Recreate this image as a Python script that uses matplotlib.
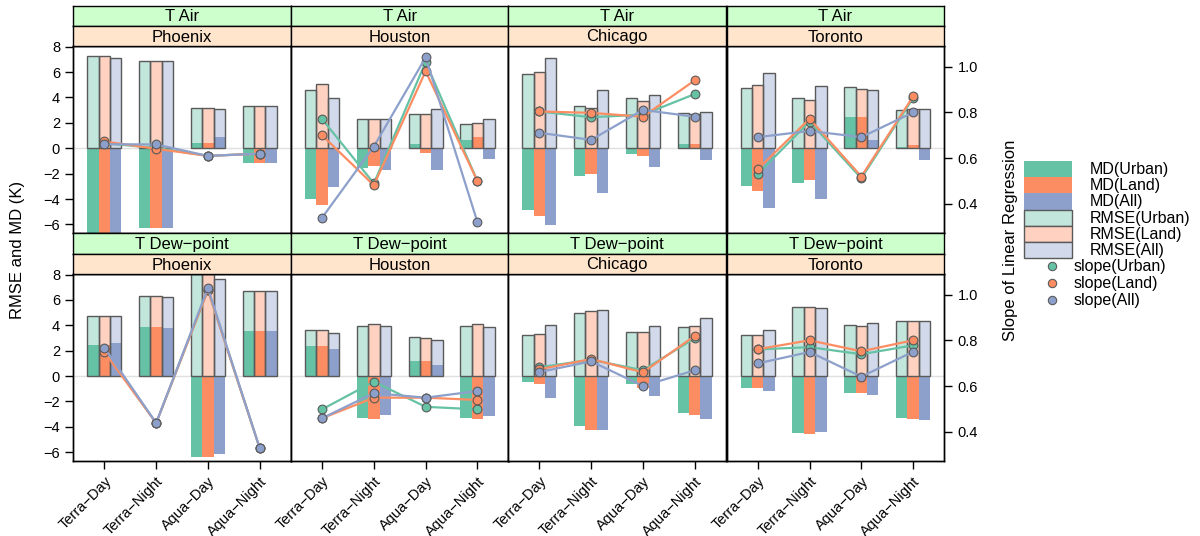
import numpy as np
import matplotlib
matplotlib.use('Agg')
import matplotlib.pyplot as plt
from matplotlib.patches import Rectangle

plt.rcParams['font.family'] = ['Liberation Sans', 'DejaVu Sans']

W, H = 1200, 536

variables = ['T Air', 'T Dew\u2212point']
cities = ['Phoenix', 'Houston', 'Chicago', 'Toronto']
periods = ['Terra\u2212Day', 'Terra\u2212Night', 'Aqua\u2212Day', 'Aqua\u2212Night']

# T Air, one row per city (Phoenix, Houston, Chicago, Toronto)
rmse_urban_air = [[7.24, 6.83, 3.13, 3.33], [4.57, 2.34, 2.73, 1.94],
                  [5.83, 3.36, 3.99, 2.78], [4.78, 3.99, 4.86, 3.02]]
rmse_land_air = [[7.24, 6.83, 3.13, 3.33], [5.02, 2.34, 2.73, 2.02],
                 [6.04, 3.20, 3.68, 2.68], [4.94, 3.83, 4.70, 3.07]]
rmse_all_air = [[7.14, 6.83, 3.12, 3.33], [3.99, 2.34, 3.07, 2.31],
                [7.11, 4.57, 4.20, 2.89], [5.96, 4.91, 4.59, 3.10]]
md_urban_air = [[-7.0, -6.27, 0.45, -1.18], [-3.99, -1.52, 0.31, 0.63],
                [-4.88, -2.18, -0.45, 0.37], [-2.94, -2.73, 2.44, 0.10]]
md_land_air = [[-7.0, -6.27, 0.45, -1.18], [-4.46, -1.42, -0.37, 0.87],
               [-5.33, -2.02, -0.65, 0.34], [-3.36, -2.47, 2.44, 0.24]]
md_all_air = [[-7.0, -6.32, 0.87, -1.15], [-3.05, -1.73, -1.71, -0.84],
              [-6.06, -3.52, -1.47, -0.94], [-4.67, -3.96, 0.65, -0.94]]
slope_urban_air = [[0.665, 0.645, 0.61, 0.62], [0.771, 0.49, 1.02, 0.50],
                   [0.804, 0.779, 0.79, 0.88], [0.531, 0.76, 0.512, 0.863]]
slope_land_air = [[0.673, 0.641, 0.61, 0.62], [0.70, 0.482, 0.98, 0.50],
                  [0.804, 0.798, 0.781, 0.94], [0.552, 0.772, 0.52, 0.87]]
slope_all_air = [[0.661, 0.66, 0.61, 0.62], [0.34, 0.651, 1.04, 0.321],
                 [0.711, 0.68, 0.811, 0.781], [0.692, 0.719, 0.692, 0.80]]

# T Dew-point
rmse_urban_dew = [[4.73, 6.30, 8.4, 6.72], [3.63, 3.95, 3.06, 3.97],
                  [3.27, 4.94, 3.50, 3.84], [3.22, 5.41, 4.03, 4.34]]
rmse_land_dew = [[4.73, 6.30, 8.4, 6.72], [3.63, 4.10, 3.00, 4.10],
                 [3.35, 5.15, 3.50, 3.97], [3.22, 5.41, 3.95, 4.34]]
rmse_all_dew = [[4.73, 6.20, 7.66, 6.72], [3.40, 3.95, 2.85, 3.90],
                [4.00, 5.18, 3.97, 4.57], [3.61, 5.33, 4.18, 4.34]]
md_urban_dew = [[2.43, 3.90, -6.41, 3.58], [2.41, -3.27, 1.18, -3.27],
                [-0.45, -3.97, -0.60, -2.90], [-0.94, -4.50, -1.33, -3.32]]
md_land_dew = [[2.43, 3.90, -6.41, 3.58], [2.35, -3.40, 1.18, -3.37],
               [-0.65, -4.24, -0.96, -3.11], [-0.97, -4.55, -1.33, -3.35]]
md_all_dew = [[2.64, 3.79, -6.14, 3.58], [2.12, -3.06, 0.89, -3.14],
              [-1.75, -4.24, -1.54, -3.42], [-1.18, -4.42, -1.52, -3.47]]
slope_urban_dew = [[0.76, 0.438, 1.02, 0.328], [0.498, 0.619, 0.509, 0.498],
                   [0.682, 0.715, 0.669, 0.809], [0.76, 0.77, 0.739, 0.778]]
slope_land_dew = [[0.749, 0.438, 1.019, 0.328], [0.459, 0.549, 0.549, 0.539],
                  [0.673, 0.718, 0.66, 0.819], [0.761, 0.80, 0.752, 0.80]]
slope_all_dew = [[0.768, 0.438, 1.028, 0.328], [0.459, 0.569, 0.549, 0.578],
                 [0.661, 0.708, 0.60, 0.669], [0.699, 0.749, 0.641, 0.75]]

rmse = [[rmse_urban_air, rmse_land_air, rmse_all_air],
        [rmse_urban_dew, rmse_land_dew, rmse_all_dew]]
md = [[md_urban_air, md_land_air, md_all_air],
      [md_urban_dew, md_land_dew, md_all_dew]]
slope = [[slope_urban_air, slope_land_air, slope_all_air],
         [slope_urban_dew, slope_land_dew, slope_all_dew]]

colors = ['#66C2A5', '#FC8D62', '#8DA0CB']
light = ['#C2E6DB', '#FED1C0', '#D1D9EA']
groups = ['Urban', 'Land', 'All']
edge = '#5a5a5a'

fig = plt.figure(figsize=(12, 5.36), dpi=100)


def px(x0, y0, x1, y1):
    return [x0 / W, 1 - y1 / H, (x1 - x0) / W, (y1 - y0) / H]


lefts = [73.3, 291.0, 508.3, 726.7]
pw = 217.5
rows = [(5.7, 26.0, 46.0, 233.3), (233.3, 254.0, 274.0, 461.0)]
x = np.arange(1, 5)
bw = 0.22
offs = [-0.22, 0.0, 0.22]

for r in range(2):
    s0, s1, p0, p1 = rows[r]
    for c in range(4):
        L = lefts[c]
        ax = fig.add_axes(px(L, p0, L + pw, p1))
        ax.set_xlim(0.4, 4.6)
        ax.set_ylim(-6.7, 8.05)
        ax.axhline(0, color='#e0e0e0', lw=1, zorder=0)
        # light rmse bars, solid md bars, then rmse outlines on top
        for k in range(3):
            ax.bar(x + offs[k], rmse[r][k][c], width=bw, color=light[k],
                   edgecolor='none', zorder=1)
        for k in range(3):
            ax.bar(x + offs[k], md[r][k][c], width=bw, color=colors[k],
                   edgecolor='none', zorder=2)
        for k in range(3):
            ax.bar(x + offs[k], rmse[r][k][c], width=bw, color='none',
                   edgecolor=edge, lw=1, zorder=3)
        ax2 = ax.twinx()
        ax2.set_ylim(0.272, 1.09)
        for k in range(3):
            ax2.plot(x, slope[r][k][c], color=colors[k], lw=1.6, zorder=4,
                     marker='o', ms=6.3, mfc=colors[k], mec=edge, mew=0.8)
        for a in (ax, ax2):
            for sp in a.spines.values():
                sp.set_linewidth(1.0)
            a.tick_params(length=6, width=1, labelsize=10.5, colors='black')
        ax.set_xticks(x)
        if r == 1:
            ax.set_xticklabels(periods, rotation=45, ha='right',
                               rotation_mode='anchor', fontsize=10.5)
        else:
            ax.tick_params(axis='x', length=0, labelbottom=False)
        if c == 0:
            ax.set_yticks(np.arange(-6, 9, 2))
        else:
            ax.set_yticks([])
        if c == 3:
            ax2.set_yticks([0.4, 0.6, 0.8, 1.0])
        else:
            ax2.set_yticks([])

        # strips
        for (y0, y1, txt, bg) in [(s0, s1, variables[r], '#CCFFCC'),
                                  (s1, p0, cities[c], '#FFE5CC')]:
            sa = fig.add_axes(px(L, y0, L + pw, y1))
            sa.set_facecolor(bg)
            sa.set_xticks([])
            sa.set_yticks([])
            for sp in sa.spines.values():
                sp.set_linewidth(1.0)
            sa.text(0.5, 0.45, txt, ha='center', va='center', fontsize=12,
                    transform=sa.transAxes)

fig.text(18 / W, 1 - 250 / H, 'RMSE and MD (K)', rotation=90, ha='center',
         va='center', fontsize=12)
fig.text(1010 / W, 1 - 240 / H, 'Slope of Linear Regression', rotation=90,
         ha='center', va='center', fontsize=12)

# legend
lg = fig.add_axes([0, 0, 1, 1], facecolor='none')
lg.set_xlim(0, W)
lg.set_ylim(H, 0)
lg.axis('off')
labels = ['MD(' + g + ')' for g in groups] + ['RMSE(' + g + ')' for g in groups]
for i in range(6):
    y0 = 161 + i * 16.2
    if i < 3:
        lg.add_patch(Rectangle((1024, y0), 47.5, 16.2, facecolor=colors[i],
                               edgecolor='none'))
    else:
        lg.add_patch(Rectangle((1024, y0), 47.5, 16.2, facecolor=light[i - 3],
                               edgecolor=edge, lw=1))
    lg.text(1090, y0 + 8.5, labels[i], ha='left', va='center', fontsize=11.5)
for i in range(3):
    yy = 266 + i * 17.2
    lg.plot([1051.7], [yy], 'o', ms=6, mfc=colors[i], mec=edge, mew=0.8)
    lg.text(1074, yy, 'slope(' + groups[i] + ')', ha='left', va='center',
            fontsize=11.5)

fig.savefig('out.png', dpi=100)
